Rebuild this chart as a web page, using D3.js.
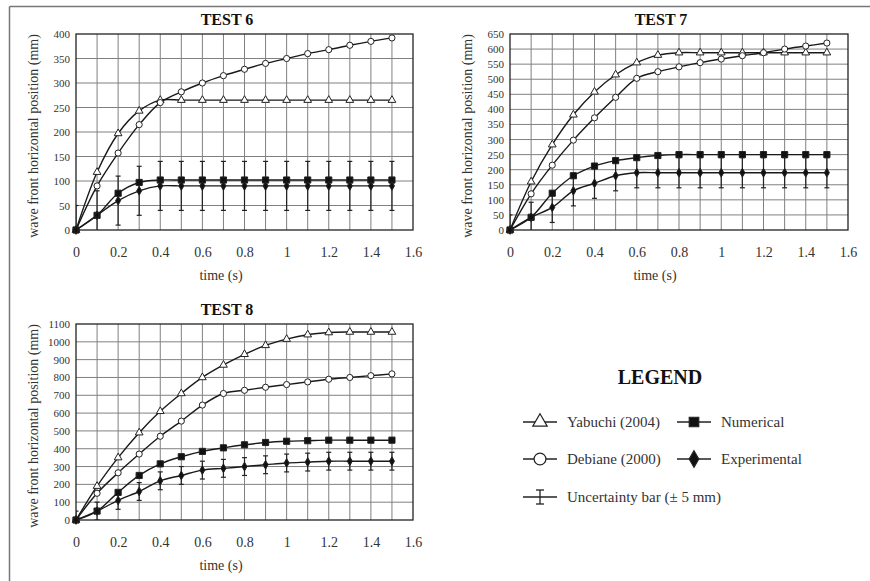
<!DOCTYPE html>
<html>
<head>
<meta charset="utf-8">
<script src="https://cdn.jsdelivr.net/npm/d3@7"></script>
<style>
  body { margin: 0; background: #fff; }
  svg { display: block; font-family: "Liberation Serif", "Times New Roman", serif; }
  svg text { font-family: "Liberation Serif", "Times New Roman", serif; }
</style>
</head>
<body>
<script>
// temps (s)
const times = [0, 0.1, 0.2, 0.3, 0.4, 0.5, 0.6, 0.7, 0.8, 0.9, 1.0, 1.1, 1.2, 1.3, 1.4, 1.5];

// TEST 6
const t6Yabuchi = [0, 118, 197, 243, 265, 265, 265, 265, 265, 265, 265, 265, 265, 265, 265, 265];
const t6Debiane = [0, 90, 157, 215, 260, 282, 300, 315, 328, 340, 350, 360, 368, 377, 385, 392];
const t6Numerical = [0, 30, 75, 97, 102, 102, 102, 102, 102, 102, 102, 102, 102, 102, 102, 102];
const t6Experimental = [0, 30, 60, 80, 90, 90, 90, 90, 90, 90, 90, 90, 90, 90, 90, 90];

// TEST 7
const t7Yabuchi = [0, 160, 283, 382, 458, 515, 555, 580, 588, 588, 588, 588, 588, 588, 588, 588];
const t7Debiane = [0, 120, 215, 298, 372, 440, 503, 525, 541, 555, 567, 578, 588, 600, 610, 620];
const t7Numerical = [0, 42, 122, 180, 212, 230, 240, 247, 250, 250, 250, 250, 250, 250, 250, 250];
const t7Experimental = [0, 42, 75, 130, 155, 180, 190, 190, 190, 190, 190, 190, 190, 190, 190, 190];

// TEST 8
const t8Yabuchi = [0, 190, 350, 490, 610, 710, 800, 870, 930, 980, 1015, 1040, 1052, 1055, 1055, 1055];
const t8Debiane = [0, 150, 265, 370, 470, 555, 645, 710, 728, 745, 760, 775, 790, 800, 810, 820];
const t8Numerical = [0, 50, 155, 250, 315, 355, 385, 405, 422, 435, 442, 445, 448, 448, 448, 448];
const t8Experimental = [0, 50, 110, 160, 220, 250, 280, 290, 300, 310, 320, 325, 330, 330, 330, 330];

// demi-largeur des barres d'incertitude (en mm sur l'axe)
const errorHalf = 50;

const xTicks = [0, 0.2, 0.4, 0.6, 0.8, 1, 1.2, 1.4, 1.6];
const legendLabels = ["Yabuchi (2004)", "Numerical", "Debiane (2000)", "Experimental", "Uncertainty bar (\u00b1 5 mm)"];

const width = 870, height = 581;
const serif = "Liberation Serif, Times New Roman, serif";

const svg = d3.select("body").append("svg")
  .attr("width", width)
  .attr("height", height);

// cadre gris de l'image
svg.append("line").attr("x1", 9.5).attr("x2", width).attr("y1", 6.5).attr("y2", 6.5)
  .attr("stroke", "#777").attr("stroke-width", 1.5);
svg.append("line").attr("x1", 9.5).attr("x2", 9.5).attr("y1", 6.5).attr("y2", height)
  .attr("stroke", "#777").attr("stroke-width", 1.5);

const panels = [
  { id: "p6", title: "TEST 6", left: 76, top: 34, w: 337, h: 196, ymax: 400, ystep: 50,
    series: [t6Yabuchi, t6Debiane, t6Numerical, t6Experimental] },
  { id: "p7", title: "TEST 7", left: 510, top: 34, w: 338, h: 196, ymax: 650, ystep: 50,
    series: [t7Yabuchi, t7Debiane, t7Numerical, t7Experimental] },
  { id: "p8", title: "TEST 8", left: 76, top: 324, w: 337, h: 196, ymax: 1100, ystep: 100,
    series: [t8Yabuchi, t8Debiane, t8Numerical, t8Experimental] }
];

const symbolTypes = [d3.symbolTriangle, d3.symbolCircle, d3.symbolSquare, d3.symbolDiamond];
const symbolSizes = [26, 30, 38, 22];
const symbolFills = ["#fff", "#fff", "#111", "#111"];

panels.forEach(function(p) {
  const x = d3.scaleLinear().domain([0, 1.6]).range([p.left, p.left + p.w]);
  const y = d3.scaleLinear().domain([0, p.ymax]).range([p.top + p.h, p.top]);

  const g = svg.append("g");

  g.append("clipPath").attr("id", "clip-" + p.id)
    .append("rect")
    .attr("x", p.left).attr("y", p.top).attr("width", p.w).attr("height", p.h);

  // grille
  const xGrid = d3.range(1, 16).map(i => i / 10);
  g.selectAll(".vgrid").data(xGrid).enter().append("line")
    .attr("x1", d => x(d)).attr("x2", d => x(d))
    .attr("y1", p.top).attr("y2", p.top + p.h)
    .attr("stroke", "#808080").attr("stroke-width", 1);

  const yGrid = d3.range(p.ystep, p.ymax, p.ystep);
  g.selectAll(".hgrid").data(yGrid).enter().append("line")
    .attr("x1", p.left).attr("x2", p.left + p.w)
    .attr("y1", d => y(d)).attr("y2", d => y(d))
    .attr("stroke", "#808080").attr("stroke-width", 1);

  g.append("rect")
    .attr("x", p.left).attr("y", p.top).attr("width", p.w).attr("height", p.h)
    .attr("fill", "none").attr("stroke", "#222").attr("stroke-width", 1.3);

  // axes
  const xAxis = d3.axisBottom(x).tickValues(xTicks).tickSize(0).tickPadding(17)
    .tickFormat(d => String(+d.toFixed(1)));
  g.append("g").attr("transform", "translate(0," + (p.top + p.h) + ")")
    .call(xAxis)
    .call(a => a.select(".domain").remove())
    .selectAll("text").attr("font-size", 14).attr("fill", "#333")
    .attr("font-family", serif);

  const yAxis = d3.axisLeft(y).tickValues(d3.range(0, p.ymax + 1, p.ystep)).tickSize(0).tickPadding(6)
    .tickFormat(d3.format("d"));
  g.append("g").attr("transform", "translate(" + p.left + ",0)")
    .call(yAxis)
    .call(a => a.select(".domain").remove())
    .selectAll("text").attr("font-size", 11).attr("fill", "#333")
    .attr("font-family", serif);

  // titres
  g.append("text")
    .attr("x", p.left + 151).attr("y", p.top - 9)
    .attr("text-anchor", "middle").attr("font-weight", "bold").attr("font-size", 16)
    .attr("font-family", serif)
    .attr("fill", "#111").text(p.title);

  g.append("text")
    .attr("x", p.left + 145).attr("y", p.top + p.h + 50)
    .attr("text-anchor", "middle").attr("font-size", 14).attr("fill", "#333")
    .attr("font-family", serif)
    .text("time (s)");

  g.append("text")
    .attr("transform", "translate(" + (p.left - 38) + "," + (p.top + p.h / 2 + 4) + ") rotate(-90)")
    .attr("text-anchor", "middle").attr("font-size", 14).attr("fill", "#333")
    .attr("font-family", serif)
    .text("wave front horizontal position (mm)");

  const plot = g.append("g").attr("clip-path", "url(#clip-" + p.id + ")");

  // barres d'incertitude sur la série expérimentale
  const exp = p.series[3];
  const bars = plot.selectAll(".err").data(times).enter().append("g");
  bars.append("line")
    .attr("x1", (d) => x(d)).attr("x2", (d) => x(d))
    .attr("y1", (d, i) => y(exp[i] - errorHalf)).attr("y2", (d, i) => y(exp[i] + errorHalf))
    .attr("stroke", "#222").attr("stroke-width", 1.2);
  [-1, 1].forEach(function(s) {
    bars.append("line")
      .attr("x1", d => x(d) - 2.5).attr("x2", d => x(d) + 2.5)
      .attr("y1", (d, i) => y(exp[i] + s * errorHalf)).attr("y2", (d, i) => y(exp[i] + s * errorHalf))
      .attr("stroke", "#222").attr("stroke-width", 1.2);
  });

  const line = d3.line()
    .x((d, i) => x(times[i]))
    .y(d => y(d))
    .curve(d3.curveCatmullRom.alpha(0.5));

  p.series.forEach(function(s, k) {
    plot.append("path")
      .attr("d", line(s))
      .attr("fill", "none")
      .attr("stroke", "#1a1a1a")
      .attr("stroke-width", 1.4);
  });

  p.series.forEach(function(s, k) {
    g.selectAll(".m" + k).data(s).enter().append("path")
      .attr("transform", (d, i) => "translate(" + x(times[i]) + "," + y(d) + ")")
      .attr("d", d3.symbol().type(symbolTypes[k]).size(symbolSizes[k]))
      .attr("fill", symbolFills[k])
      .attr("stroke", "#222").attr("stroke-width", 1);
  });
});

// légende
const leg = svg.append("g");
leg.append("text")
  .attr("x", 660).attr("y", 384)
  .attr("text-anchor", "middle").attr("font-weight", "bold").attr("font-size", 20)
  .attr("font-family", serif)
  .attr("fill", "#111").text("LEGEND");

const legItems = [
  { label: legendLabels[0], cx: 540, cy: 422, type: d3.symbolTriangle, size: 90, fill: "#fff" },
  { label: legendLabels[1], cx: 694, cy: 422, type: d3.symbolSquare, size: 90, fill: "#111" },
  { label: legendLabels[2], cx: 540, cy: 459, type: d3.symbolCircle, size: 110, fill: "#fff" },
  { label: legendLabels[3], cx: 694, cy: 459, type: d3.symbolDiamond, size: 80, fill: "#111" },
  { label: legendLabels[4], cx: 540, cy: 497, type: null }
];

legItems.forEach(function(it) {
  leg.append("line")
    .attr("x1", it.cx - 17).attr("x2", it.cx + 17)
    .attr("y1", it.cy).attr("y2", it.cy)
    .attr("stroke", "#222").attr("stroke-width", 1.3);
  if (it.type) {
    leg.append("path")
      .attr("transform", "translate(" + it.cx + "," + it.cy + ")")
      .attr("d", d3.symbol().type(it.type).size(it.size))
      .attr("fill", it.fill).attr("stroke", "#222").attr("stroke-width", 1.2);
  } else {
    leg.append("line")
      .attr("x1", it.cx).attr("x2", it.cx).attr("y1", it.cy - 7).attr("y2", it.cy + 7)
      .attr("stroke", "#222").attr("stroke-width", 1.3);
    [-7, 7].forEach(function(o) {
      leg.append("line")
        .attr("x1", it.cx - 4).attr("x2", it.cx + 4).attr("y1", it.cy + o).attr("y2", it.cy + o)
        .attr("stroke", "#222").attr("stroke-width", 1.3);
    });
  }
  leg.append("text")
    .attr("x", it.cx + 27).attr("y", it.cy + 5)
    .attr("font-size", 15).attr("fill", "#333")
    .attr("font-family", serif)
    .text(it.label);
});
</script>
</body>
</html>
